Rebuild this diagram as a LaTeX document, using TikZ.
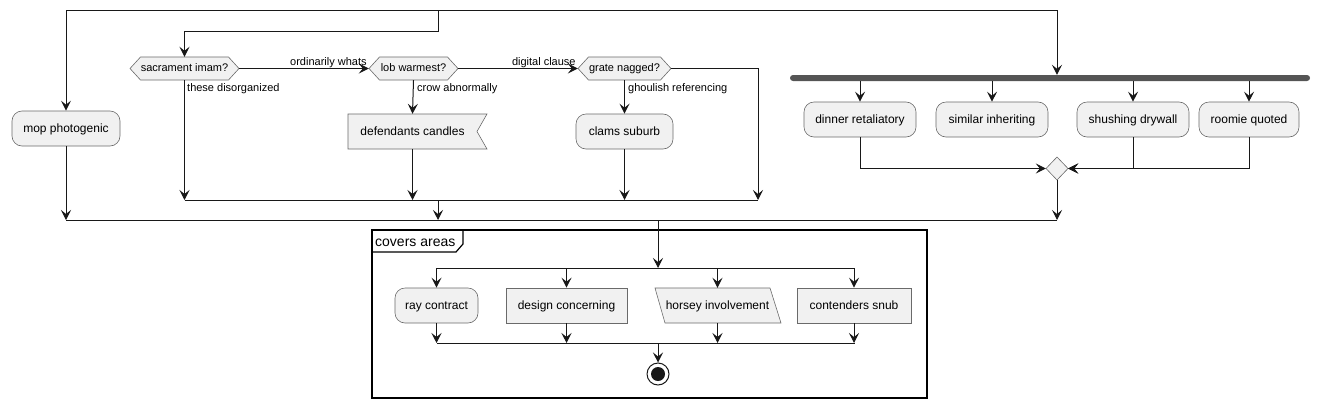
\documentclass[tikz,border=0pt]{standalone}
\usepackage{fontspec}
\setmainfont{Liberation Sans}
\usepackage{xcolor}
\usetikzlibrary{arrows.meta}
\definecolor{boxfill}{HTML}{F1F1F1}
\definecolor{boxline}{HTML}{181818}
\definecolor{boxedge}{HTML}{6A6A6A}
\definecolor{barfill}{HTML}{555555}

\begin{document}
\begin{tikzpicture}[x=1pt, y=-1pt,
    flow/.style={draw=boxline, line width=1pt},
    arr/.style={flow, -{Stealth[length=10pt, width=10pt, inset=4pt]}},
    outline/.style={draw=boxedge, fill=boxfill, line width=.6pt},
    txt/.style={inner sep=0pt, minimum height=35pt, text height=9pt, text depth=2pt, font=\fontsize{12}{14}\selectfont},
    rnd/.style={txt, outline, rounded corners=10pt},
    sqr/.style={txt, outline},
    hex/.style={inner sep=0pt, minimum height=23pt, text height=8pt, text depth=2pt, font=\fontsize{11}{13}\selectfont},
    lbl/.style={inner sep=0pt, font=\fontsize{11}{13}\selectfont}]
  \useasboundingbox (0,0) rectangle (1321,407);

  \coordinate (spl) at (66,10);
  \coordinate (spm) at (438,10);
  \coordinate (spr) at (1057,10);
  \draw[flow] (spl) -- (spr);

  \node [rnd, minimum width=108pt] (mop) at (66,128.5) {mop photogenic};
  \draw[arr] (spl) -- (mop.north);

  \filldraw[outline] (130,68.5) -- (140.5,57) -- (228.5,57) -- (239,68.5) -- (228.5,80) -- (140.5,80) -- cycle;
  \node [hex, minimum width=109pt] (sac) at (184.5,68.5) {sacrament imam?};
  \filldraw[outline] (369,68.5) -- (379.5,57) -- (447.5,57) -- (458,68.5) -- (447.5,80) -- (379.5,80) -- cycle;
  \node [hex, minimum width=89pt] (lob) at (413.5,68.5) {lob warmest?};
  \filldraw[outline] (578,68.5) -- (588.5,57) -- (660.5,57) -- (671,68.5) -- (660.5,80) -- (588.5,80) -- cycle;
  \node [hex, minimum width=93pt] (grate) at (624.5,68.5) {grate nagged?};

  \filldraw[outline] (348,114) -- (487,114) -- (477,131.5) -- (487,149) -- (348,149) -- cycle;
  \node [txt, minimum width=129pt] (def) at (412.5,131.5) {defendants candles};
  \node [rnd, minimum width=97pt] (clams) at (624.5,131.5) {clams suburb};

  \draw[arr] (spm) -- (438,31) -| (sac.north);
  \draw[arr] (sac.east) -- (lob.west);
  \node [lbl, anchor=base east] (lwhats) at ([xshift=-2pt, yshift=3.5pt]lob.west) {ordinarily whats};
  \draw[arr] (lob.east) -- (grate.west);
  \node [lbl, anchor=base east] (lclause) at ([xshift=-2pt, yshift=3.5pt]grate.west) {digital clause};
  \draw[arr] (lob.south) -- (def.north);
  \node [lbl, anchor=base west] (lcrow) at ([xshift=3.5pt, yshift=-11pt]lob.south) {crow abnormally};
  \draw[arr] (grate.south) -- (clams.north);
  \node [lbl, anchor=base west] (lghoul) at ([xshift=3.5pt, yshift=-11pt]grate.south) {ghoulish referencing};
  \node [lbl, anchor=base west] (lthese) at ([xshift=2.5pt, yshift=-11pt]sac.south) {these disorganized};

  \coordinate (m1l) at (184.5,200);
  \coordinate (m1r) at (758,200);
  \draw[arr] (sac.south) -- (sac.south |- m1l);
  \draw[arr] (def.south) -- (def.south |- m1l);
  \draw[arr] (clams.south) -- (clams.south |- m1l);
  \draw[arr] (grate.east) -| (m1r);
  \draw[flow] (m1l) -- (m1r);

  \node [rectangle, fill=barfill, rounded corners=3pt, inner sep=0pt, minimum width=520pt, minimum height=6pt] (bar) at (1050,78) {};
  \draw[arr] (spr) -- (spr |- bar.north);
  \node [rnd, minimum width=112pt] (din) at (860,119.5) {dinner retaliatory};
  \node [rnd, minimum width=112pt] (sim) at (992,119.5) {similar inheriting};
  \node [rnd, minimum width=112pt] (shu) at (1133,119.5) {shushing drywall};
  \node [rnd, minimum width=100pt] (roo) at (1249,119.5) {roomie quoted};
  \foreach \b in {din, sim, shu, roo}
    \draw[arr] (\b.north |- bar.south) -- (\b.north);

  \filldraw[outline] (1046,168.5) -- (1057,157) -- (1068,168.5) -- (1057,180) -- cycle;
  \node [inner sep=0pt, minimum width=22pt, minimum height=23pt] (mrg) at (1057,168.5) {};
  \draw[arr] (din.south) |- (mrg.west);
  \draw[arr] (shu.south) |- (mrg.east);
  \draw[arr] (roo.south) |- (mrg.east);

  \coordinate (m2l) at (66,220);
  \coordinate (m2r) at (1057,220);
  \draw[arr] (mop.south) -- (mop.south |- m2l);
  \draw[arr] (spm |- m1l) -- (spm |- m2l);
  \draw[arr] (mrg.south) -- (m2r);
  \draw[flow] (m2l) -- (m2r);

  \draw[black, line width=1.5pt] (372,230) rectangle (927,398);
  \draw[black, line width=1.2pt] (372,252) -- (456,252) -- (463,244) -- (463,230);
  \node [anchor=base west, inner sep=0pt, font=\fontsize{14}{16}\selectfont] (title) at (375,246.5) {covers areas};

  \coordinate (s2l) at (437,268);
  \coordinate (s2m) at (658,268);
  \coordinate (s2r) at (855,268);
  \draw[arr] (s2m |- m2l) -- (s2m);
  \draw[flow] (s2l) -- (s2r);

  \node [rnd, minimum width=83pt] (ray) at (436.5,305.5) {ray contract};
  \node [sqr, minimum width=121pt] (des) at (566.5,305.5) {design concerning};
  \filldraw[outline] (655,288) -- (770,288) -- (781,323) -- (665,323) -- cycle;
  \node [txt, minimum width=116pt] (hor) at (717.5,305.5) {horsey involvement};
  \node [sqr, minimum width=114pt] (con) at (854,305.5) {contenders snub};

  \coordinate (m3l) at (437,343);
  \coordinate (m3r) at (855,343);
  \foreach \b in {ray, des, hor, con} {
    \draw[arr] (\b.north |- s2l) -- (\b.north);
    \draw[arr] (\b.south) -- (\b.south |- m3l);
  }
  \draw[flow] (m3l) -- (m3r);

  \node [circle, draw=boxline, line width=1pt, inner sep=0pt, minimum size=22pt] (fin) at (658,374) {};
  \fill[boxline] (fin.center) circle (7pt);
  \draw[arr] (s2m |- m3l) -- (fin.north);
\end{tikzpicture}
\end{document}
